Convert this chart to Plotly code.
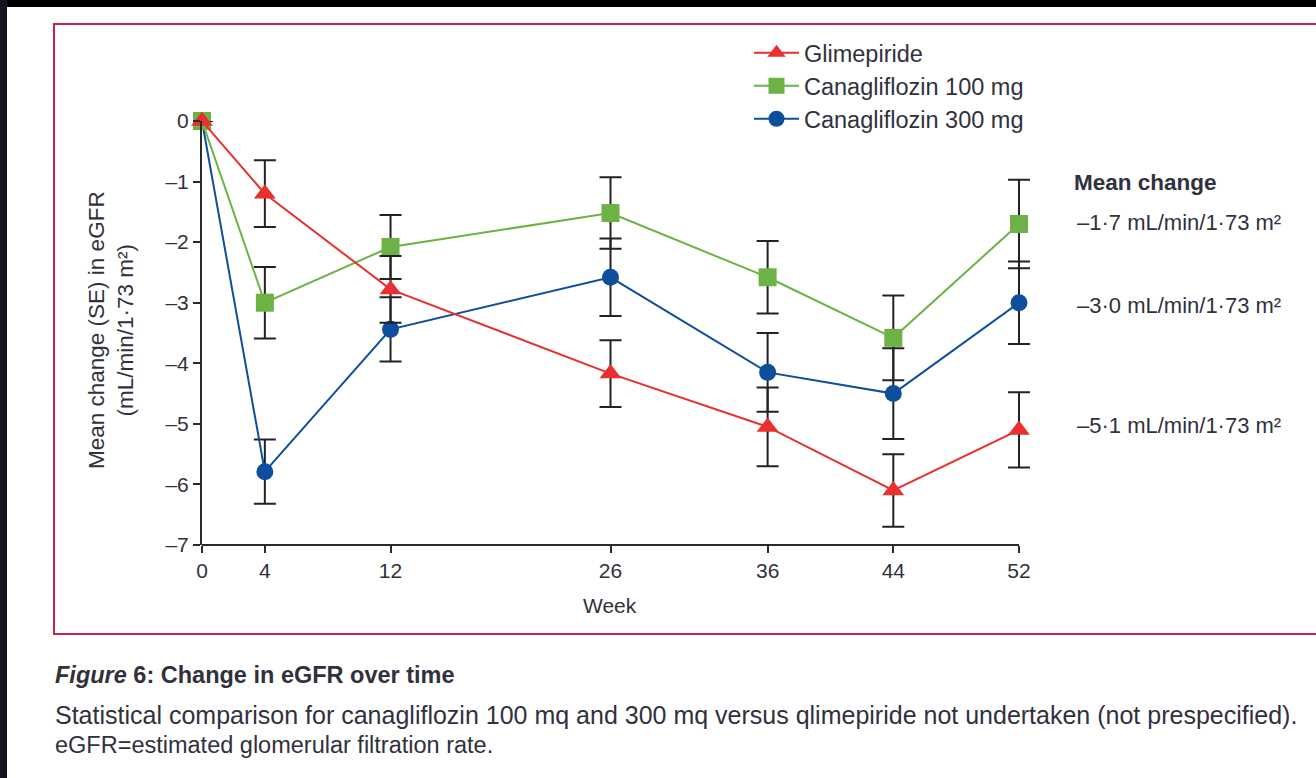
import plotly.graph_objects as go

# Study weeks and mean change in eGFR (SE), mL/min/1.73 m^2
weeks = [0, 4, 12, 26, 36, 44, 52]
glimepiride = [0, -1.2, -2.78, -4.17, -5.05, -6.1, -5.1]
glimepiride_se = [0, 0.55, 0.55, 0.55, 0.65, 0.6, 0.62]
cana100 = [0, -3.0, -2.08, -1.52, -2.58, -3.58, -1.7]
cana100_se = [0, 0.59, 0.53, 0.59, 0.6, 0.7, 0.73]
cana300 = [0, -5.79, -3.44, -2.58, -4.15, -4.5, -3.0]
cana300_se = [0, 0.53, 0.53, 0.64, 0.65, 0.75, 0.68]

ytick_vals = [0, -1, -2, -3, -4, -5, -6, -7]
ytick_text = ["0", "\u20131", "\u20132", "\u20133", "\u20134", "\u20135", "\u20136", "\u20137"]
mean_change_labels = [
    "\u20131\u00b77 mL/min/1\u00b773 m\u00b2",
    "\u20133\u00b70 mL/min/1\u00b773 m\u00b2",
    "\u20135\u00b71 mL/min/1\u00b773 m\u00b2",
]

W, H = 1316, 778
FONT = "Liberation Sans, Arial, sans-serif"
TEXT = "#31313d"
RED = "#e8312f"
GREEN = "#6cb244"
BLUE = "#0d4f9c"
AXIS = "#2b2b2b"

# pixel layout of the plotting area
X0_PX, X52_PX = 202, 1019
Y0_PX, Y7_PX = 121, 545
x_lo, x_hi = weeks[0], weeks[-1]
x_pad = 1.0  # extra room on the right so the last error caps are not clipped
px_per_week = (X52_PX - X0_PX) / (x_hi - x_lo)


def fx(x):
    return x / W


def fy(y):
    return 1 - y / H


def series(name, y, se, color, symbol, size, legend, rank):
    return go.Scatter(
        x=weeks, y=y, name=name, mode="lines+markers",
        line=dict(color=color, width=2),
        marker=dict(color=color, symbol=symbol, size=size, line=dict(width=0)),
        error_y=dict(type="data", array=se, visible=True, color="#222222",
                     thickness=2, width=11),
        cliponaxis=False, legend=legend, legendrank=rank, hoverinfo="skip",
    )


fig = go.Figure()
fig.add_trace(series("Canagliflozin 300 mg", cana300, cana300_se, BLUE, "circle", 17, "legend3", 3))
fig.add_trace(series("Canagliflozin 100 mg", cana100, cana100_se, GREEN, "square", 18, "legend2", 2))
fig.add_trace(series("Glimepiride", glimepiride, glimepiride_se, RED, "triangle-up", 19, "legend", 1))

legend_common = dict(xanchor="left", yanchor="middle", bgcolor="rgba(0,0,0,0)",
                     font=dict(family=FONT, size=23.5, color=TEXT), itemwidth=45,
                     borderwidth=0)

tick_common = dict(ticks="outside", ticklen=7, tickwidth=2, tickcolor=AXIS,
                   showgrid=False, zeroline=False, automargin=False,
                   tickfont=dict(family=FONT, size=21, color=TEXT))

fig.update_layout(
    width=W, height=H,
    margin=dict(l=0, r=0, t=0, b=0),
    paper_bgcolor="white", plot_bgcolor="white",
    xaxis=dict(domain=[fx(X0_PX), fx(X52_PX + x_pad * px_per_week)],
               range=[x_lo, x_hi + x_pad], tickvals=weeks,
               ticktext=[str(w) for w in weeks], showline=False, **tick_common),
    yaxis=dict(domain=[fy(Y7_PX), fy(Y0_PX)], range=[ytick_vals[-1], ytick_vals[0]],
               tickvals=ytick_vals, ticktext=ytick_text, showline=True,
               linecolor=AXIS, linewidth=2, **tick_common),
    legend=dict(x=fx(749), y=fy(53), **legend_common),
    legend2=dict(x=fx(749), y=fy(86), **legend_common),
    legend3=dict(x=fx(749), y=fy(119), **legend_common),
    showlegend=True,
)

# x-axis baseline running from week 0 to week 52
fig.add_shape(type="line", xref="x", yref="paper", x0=x_lo, x1=x_hi,
              y0=fy(Y7_PX), y1=fy(Y7_PX), line=dict(color=AXIS, width=2), layer="above")

# Page frame: dark edges and the red figure border
fig.add_shape(type="rect", xref="paper", yref="paper", x0=0, x1=1, y0=fy(7), y1=1,
              fillcolor="black", line=dict(width=0), layer="above")
fig.add_shape(type="rect", xref="paper", yref="paper", x0=0, x1=fx(7), y0=0, y1=1,
              fillcolor="#14141c", line=dict(width=0), layer="above")
fig.add_shape(type="rect", xref="paper", yref="paper", x0=fx(54), x1=fx(1330),
              y0=fy(634), y1=fy(24), fillcolor="rgba(0,0,0,0)",
              line=dict(color="#c8234a", width=2), layer="below")


def label(x, y, text, size, xanchor="left", angle=0):
    fig.add_annotation(xref="paper", yref="paper", x=fx(x), y=fy(y), text=text,
                       xanchor=xanchor, yanchor="middle", textangle=angle,
                       showarrow=False, font=dict(family=FONT, size=size, color=TEXT))


# Axis titles
label(111, 330, "Mean change (SE) in eGFR<br>(mL/min/1\u00b773 m\u00b2)", 22.5,
      xanchor="center", angle=-90)
label(610, 605, "Week", 21, xanchor="center")

# Mean change at week 52
label(1072, 183, "<b>Mean change</b>", 22.5)
for text, ypix in zip(mean_change_labels, [222, 305, 425]):
    label(1075, ypix, text, 22)

# Caption
label(53, 675, "<b><i>Figure</i> 6: Change in eGFR over time</b>", 23.5)
label(53, 715, "Statistical comparison for canagliflozin 100 mq and 300 mq versus "
               "qlimepiride not undertaken (not prespecified).", 25)
label(53, 745, "eGFR=estimated glomerular filtration rate.", 23.5)

fig.write_html("out.html")
